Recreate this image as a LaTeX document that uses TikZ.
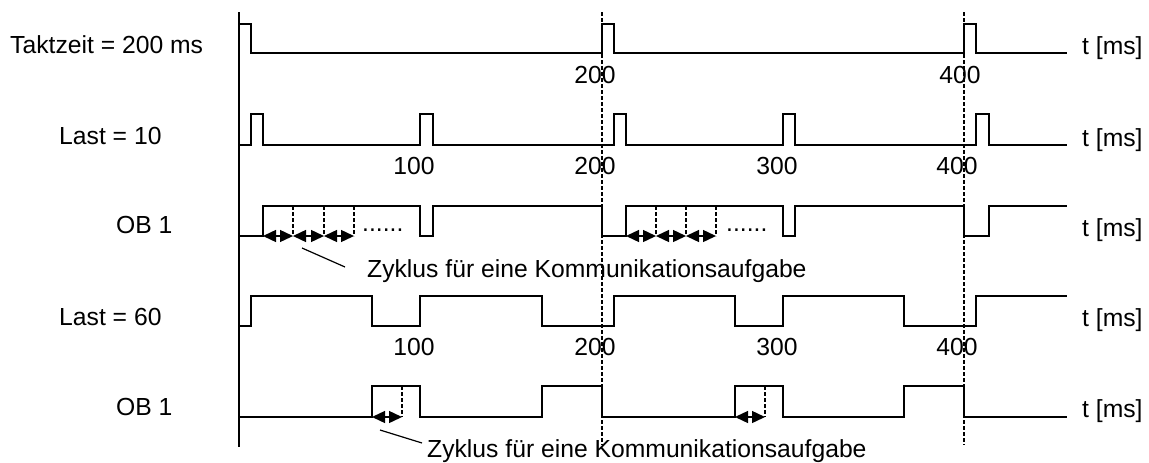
\documentclass[tikz,border=0pt]{standalone}
\usepackage{fontspec}
\setmainfont{Liberation Sans}
\usetikzlibrary{arrows.meta}
\begin{document}
\begin{tikzpicture}[x=1pt,y=-1pt,
  signal/.style={line width=1.7pt, line join=miter},
  guide/.style={line width=1.1pt, dash pattern=on 4pt off 2pt},
  marker/.style={line width=1.1pt, dash pattern=on 4pt off 2pt},
  span/.style={line width=1.4pt, {Triangle[length=13pt,width=12pt]}-{Triangle[length=13pt,width=12pt]}},
  leader/.style={line width=1.2pt},
  lbl/.style={font=\fontsize{24.7}{28}\selectfont, inner sep=0pt, anchor=base west},
  tick/.style={font=\fontsize{24.7}{28}\selectfont, inner sep=0pt, anchor=base},
]
\useasboundingbox (0,0) rectangle (1149,463);

% time axis and reference lines at 200 ms and 400 ms
\draw[signal] (239,12) -- (239,447);
\draw[guide] (602,12) -- (602,445);
\draw[guide] (964,12) -- (964,445);

% row 1: Taktzeit = 200 ms
\draw[signal] (239,24) -- (251,24) -- (251,53) -- (602,53) -- (602,24) -- (614,24) -- (614,53)
  -- (964,53) -- (964,24) -- (976,24) -- (976,53) -- (1067,53);

% row 2: Last = 10
\draw[signal] (239,145) -- (251,145) -- (251,114) -- (263,114) -- (263,145)
  -- (420,145) -- (420,114) -- (433,114) -- (433,145)
  -- (614,145) -- (614,114) -- (626,114) -- (626,145)
  -- (783,145) -- (783,114) -- (795,114) -- (795,145)
  -- (976,145) -- (976,114) -- (989,114) -- (989,145) -- (1067,145);

% row 3: OB 1 at Last = 10
\draw[signal] (239,236) -- (263,236) -- (263,206) -- (420,206) -- (420,236) -- (433,236) -- (433,206)
  -- (602,206) -- (602,236) -- (626,236) -- (626,206) -- (783,206) -- (783,236) -- (795,236) -- (795,206)
  -- (964,206) -- (964,236) -- (989,236) -- (989,206) -- (1067,206);
\foreach \x in {293,324,354,656,686,716}
  \draw[marker] (\x,206) -- (\x,236);
\draw[span] (263,236) -- (293,236);
\draw[span] (293,236) -- (324,236);
\draw[span] (324,236) -- (354,236);
\draw[span] (626,236) -- (656,236);
\draw[span] (656,236) -- (686,236);
\draw[span] (686,236) -- (716,236);
\node[lbl] (dotsA) at (362,231) {......};
\node[lbl] (dotsB) at (726,231) {......};

% row 4: Last = 60
\draw[signal] (239,326) -- (251,326) -- (251,296) -- (372,296) -- (372,326) -- (420,326) -- (420,296)
  -- (542,296) -- (542,326) -- (614,326) -- (614,296) -- (735,296) -- (735,326) -- (783,326) -- (783,296)
  -- (904,296) -- (904,326) -- (976,326) -- (976,296) -- (1067,296);

% row 5: OB 1 at Last = 60
\draw[signal] (239,417) -- (372,417) -- (372,386) -- (420,386) -- (420,417) -- (542,417) -- (542,386)
  -- (602,386) -- (602,417) -- (735,417) -- (735,386) -- (783,386) -- (783,417) -- (904,417) -- (904,386)
  -- (964,386) -- (964,417) -- (1067,417);
\draw[marker] (402,386) -- (402,417);
\draw[marker] (765,386) -- (765,417);
\draw[span] (372,417) -- (402,417);
\draw[span] (735,417) -- (765,417);

% signal names
\node[lbl] (takt) at (10,53) {Taktzeit = 200 ms};
\node[lbl] (last10) at (59,144) {Last = 10};
\node[lbl] (ob1a) at (116,233) {OB 1};
\node[lbl] (last60) at (59,325) {Last = 60};
\node[lbl] (ob1b) at (116,415) {OB 1};

% axis units
\foreach \y/\n in {54/tA,146/tB,236/tC,326/tD,417/tE}
  \node[lbl] (\n) at (1082,\y) {t [ms]};

% time marks
\node[tick] (r1a) at (595,83) {200};
\node[tick] (r1b) at (960,83) {400};
\node[tick] (r2a) at (414,174) {100};
\node[tick] (r2b) at (595,174) {200};
\node[tick] (r2c) at (777,174) {300};
\node[tick] (r2d) at (957,174) {400};
\node[tick] (r4a) at (414,355) {100};
\node[tick] (r4b) at (595,355) {200};
\node[tick] (r4c) at (777,355) {300};
\node[tick] (r4d) at (957,355) {400};

% cycle annotations
\node[lbl] (zykA) at (367,277) {Zyklus für eine Kommunikationsaufgabe};
\node[lbl] (zykB) at (427,457) {Zyklus für eine Kommunikationsaufgabe};
\coordinate (pA) at (302,248);
\coordinate (qA) at (345,267);
\coordinate (pB) at (380,430);
\coordinate (qB) at (422,443);
\draw[leader] (pA) -- (qA);
\draw[leader] (pB) -- (qB);
\end{tikzpicture}
\end{document}
